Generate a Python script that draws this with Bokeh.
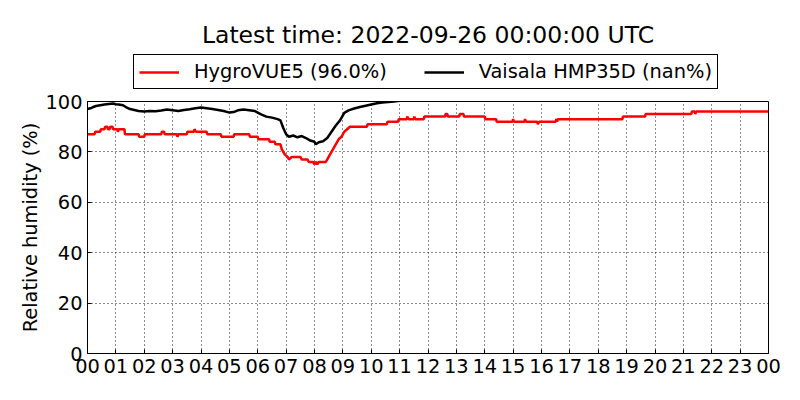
from bokeh.plotting import figure
from bokeh.layouts import column
from bokeh.models import FixedTicker, Legend, LegendItem, Range1d, Label
from bokeh.embed import file_html
from bokeh.resources import INLINE

title_text = "Latest time: 2022-09-26 00:00:00 UTC"
y_axis_label = "Relative humidity (%)"
x_ticks = list(range(25))
x_tick_labels = ["00", "01", "02", "03", "04", "05", "06", "07", "08", "09", "10", "11",
                 "12", "13", "14", "15", "16", "17", "18", "19", "20", "21", "22", "23", "00"]
y_ticks = [0, 20, 40, 60, 80, 100]
series_names = ["HygroVUE5 (96.0%)", "Vaisala HMP35D (nan%)"]
series_colors = ["#ff0000", "#000000"]

# HygroVUE5 (hours since 00 UTC, %)
red_hours = [0.00, 0.25, 0.27, 0.45, 0.47, 0.60, 0.62, 0.70, 0.72, 0.78, 0.80, 0.88, 0.90, 1.05,
             1.07, 1.10, 1.30, 1.32, 1.80, 1.82, 2.00, 2.02, 2.60, 2.62, 2.70, 2.72, 3.15, 3.17,
             3.20, 3.50, 3.52, 3.75, 3.77, 3.82, 4.20, 4.22, 4.70, 4.72, 5.15, 5.17, 5.70, 5.72,
             6.00, 6.02, 6.40, 6.42, 6.60, 6.62, 6.80, 6.85, 6.95, 7.05, 7.10, 7.20, 7.50, 7.55,
             7.75, 7.80, 7.95, 8.00, 8.05, 8.10, 8.15, 8.40, 8.45, 8.55, 8.65, 8.75, 8.85, 8.95,
             9.05, 9.15, 9.25, 9.85, 9.87, 10.55, 10.57, 10.95, 10.97, 11.25, 11.27, 11.32, 11.50,
             11.52, 11.55, 11.85, 11.87, 12.60, 12.62, 12.68, 12.70, 13.10, 13.12, 13.25, 13.27,
             14.00, 14.02, 14.40, 14.42, 14.98, 15.00, 15.03, 15.40, 15.42, 15.45, 15.85, 15.87,
             15.92, 16.50, 16.52, 16.55, 16.57, 18.85, 18.87, 19.65, 19.67, 21.28, 21.30, 21.40,
             21.42, 21.45, 24.00]
red_values = [87, 87, 88, 88, 89, 89, 90, 90, 89, 89, 90, 90, 89, 89,
              88, 89, 89, 87, 87, 86, 86, 87, 87, 88, 88, 87, 87, 86,
              87, 87, 88, 88, 89, 88, 88, 87, 87, 86, 86, 87, 87, 86,
              86, 85, 85, 84, 84, 83, 83, 81, 79, 78, 77, 78, 78, 77,
              77, 76, 76, 75, 76, 75, 76, 76, 77, 79, 81, 83, 85, 86,
              88, 89, 90, 90, 91, 91, 92, 92, 93, 93, 94, 93, 93,
              94, 93, 93, 94, 94, 95, 95, 94, 94, 95, 95, 94,
              94, 93, 93, 92, 92, 93, 92, 92, 93, 92, 92, 91,
              92, 92, 93, 92, 93, 93, 94, 94, 95, 95, 96, 96,
              95, 96, 96]

# Vaisala HMP35D (hours since 00 UTC, %)
black_hours = [0.00, 0.10, 0.20, 0.30, 0.45, 0.60, 0.75, 0.90, 1.00, 1.10, 1.25, 1.35, 1.50, 1.65,
               1.80, 2.00, 2.20, 2.40, 2.60, 2.80, 3.00, 3.20, 3.40, 3.60, 3.80, 4.00, 4.20, 4.40,
               4.60, 4.80, 5.00, 5.15, 5.30, 5.50, 5.70, 5.90, 6.10, 6.30, 6.50, 6.70, 6.80, 6.90,
               7.00, 7.10, 7.25, 7.40, 7.55, 7.70, 7.85, 8.00, 8.05, 8.15, 8.30, 8.45, 8.60, 8.75,
               8.90, 9.05, 9.20, 9.40, 9.60, 9.80, 10.00, 10.20, 10.40, 10.60, 10.80, 11.00, 11.20]
black_values = [97.0, 97.3, 97.8, 98.2, 98.5, 98.8, 99.0, 99.2, 98.9, 98.8, 98.5, 97.8, 97.0, 96.6,
                96.2, 96.0, 96.2, 96.1, 96.4, 96.8, 96.5, 96.2, 96.6, 96.9, 97.3, 97.6, 97.3, 97.0,
                96.6, 96.2, 95.6, 95.8, 96.5, 96.8, 96.5, 96.2, 95.0, 94.0, 93.6, 93.0, 92.5, 89.5,
                87.0, 86.0, 86.5, 85.8, 86.3, 85.5, 84.5, 84.0, 83.0, 83.8, 84.2, 85.5, 88.0, 90.5,
                92.5, 95.5, 96.5, 97.2, 97.8, 98.3, 98.8, 99.3, 99.6, 99.8, 100.0, 100.3, 100.8]

FONT = "DejaVu Sans"
W = 784
TOP_H = 90
MAIN_H = 294
LEFT = 87

# ---- header: title + legend (its frame is aligned with the main frame by the column) ----
head = figure(width=W, height=TOP_H, min_border_left=LEFT, min_border_right=16,
              min_border_top=0, min_border_bottom=0,
              x_range=Range1d(0, 1), y_range=Range1d(0, 1),
              output_backend="svg", toolbar_location=None)
head.axis.visible = False
head.grid.visible = False
head.outline_line_color = None
head.border_fill_color = "white"
head.background_fill_color = "white"

head.add_layout(Label(x=340.5, y=56, x_units="screen", y_units="screen", text=title_text,
                      text_align="center", text_baseline="alphabetic",
                      text_font=FONT, text_font_size="23.5px", text_color="black"))

# legend-only renderers: same series, but lying outside this header's (0..1) ranges
leg_red = head.line(red_hours, red_values, line_color=series_colors[0], line_width=2.5)
leg_black = head.line(black_hours, black_values, line_color=series_colors[1], line_width=2.5)
legend = Legend(items=[LegendItem(label=series_names[0], renderers=[leg_red]),
                       LegendItem(label=series_names[1], renderers=[leg_black])],
                orientation="horizontal", location=(46, 1),
                label_text_font=FONT, label_text_font_size="19.4px", label_text_color="black",
                glyph_width=40, glyph_height=20, label_height=20, label_standoff=15,
                spacing=37, padding=5, margin=0,
                border_line_color="black", border_line_width=1.2, border_line_alpha=1.0,
                background_fill_color="white", background_fill_alpha=1.0)
head.add_layout(legend, "center")

# ---- main plot ----
p = figure(width=W, height=MAIN_H,
           min_border_left=LEFT, min_border_right=16, min_border_top=11, min_border_bottom=31,
           x_range=Range1d(0, 24), y_range=Range1d(0, 100),
           output_backend="svg", toolbar_location=None)

p.outline_line_color = "black"
p.outline_line_width = 1
p.background_fill_color = "white"
p.border_fill_color = "white"

p.xaxis.ticker = FixedTicker(ticks=x_ticks)
p.xaxis.major_label_overrides = {t: lab for t, lab in zip(x_ticks, x_tick_labels)}
p.yaxis.ticker = FixedTicker(ticks=y_ticks)
p.yaxis.axis_label = y_axis_label

for ax in (p.xaxis + p.yaxis):
    ax.axis_line_color = "black"
    ax.major_tick_in = 4
    ax.major_tick_out = 0
    ax.minor_tick_line_color = None
    ax.major_tick_line_color = "black"
    ax.major_label_text_font = FONT
    ax.major_label_text_font_size = "19.4px"
    ax.major_label_text_color = "black"
    ax.major_label_standoff = 5
    ax.axis_label_text_font = FONT
    ax.axis_label_text_font_size = "19.4px"
    ax.axis_label_text_font_style = "normal"
    ax.axis_label_text_color = "black"
    ax.axis_label_standoff = 0

p.xgrid.ticker = FixedTicker(ticks=x_ticks)
p.ygrid.ticker = FixedTicker(ticks=y_ticks)
for g in (p.xgrid + p.ygrid):
    g.grid_line_color = "black"
    g.grid_line_dash = "1 3"
    g.grid_line_width = 1
    g.grid_line_alpha = 0.9

p.line(black_hours, black_values, line_color=series_colors[1], line_width=2.5)
p.line(red_hours, red_values, line_color=series_colors[0], line_width=2.5)

layout = column(head, p, spacing=0)
open("out.html", "w").write(file_html(layout, INLINE))
